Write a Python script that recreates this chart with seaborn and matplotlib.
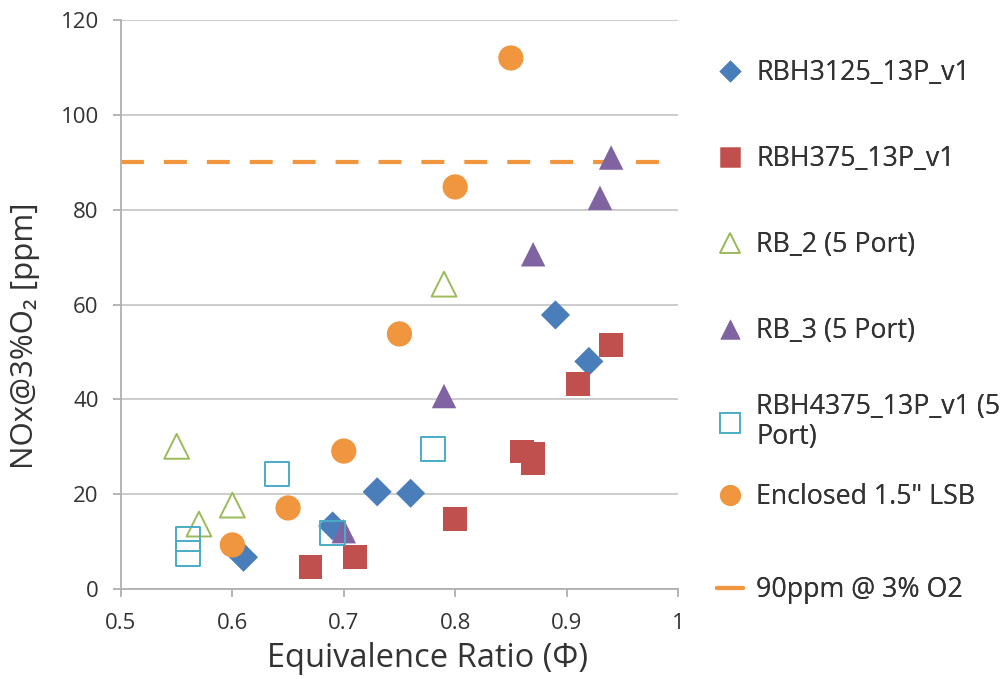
import matplotlib
matplotlib.use("Agg")
import matplotlib.pyplot as plt
import seaborn as sns
import numpy as np
import pandas as pd
from matplotlib.lines import Line2D

# ---- data ----
rbh3125_x = [0.61, 0.69, 0.73, 0.76, 0.89, 0.92]
rbh3125_y = [6.7, 13.3, 20.5, 20.2, 57.8, 48.0]

rbh375_x = [0.67, 0.71, 0.80, 0.86, 0.87, 0.87, 0.91, 0.94]
rbh375_y = [4.6, 6.7, 14.8, 29.0, 28.5, 26.5, 43.2, 51.5]

rb2_x = [0.55, 0.57, 0.60, 0.79]
rb2_y = [30.1, 13.7, 17.7, 64.3]

rb3_x = [0.70, 0.79, 0.87, 0.93, 0.94]
rb3_y = [12.2, 40.7, 70.6, 82.5, 91.0]

rbh4375_x = [0.56, 0.56, 0.64, 0.69, 0.78]
rbh4375_y = [10.5, 7.5, 24.3, 11.8, 29.5]

lsb_x = [0.60, 0.65, 0.70, 0.75, 0.80, 0.85]
lsb_y = [9.3, 17.1, 29.1, 53.8, 84.8, 112.0]

limit_x = [0.5, 1.0]
limit_y = [90, 90]

labels = ["RBH3125_13P_v1", "RBH375_13P_v1", "RB_2 (5 Port)", "RB_3 (5 Port)",
          "RBH4375_13P_v1 (5\nPort)", "Enclosed 1.5\" LSB", "90ppm @ 3% O2"]
x_ticks = [0.5, 0.6, 0.7, 0.8, 0.9, 1.0]
x_ticklabels = ["0.5", "0.6", "0.7", "0.8", "0.9", "1"]
y_ticks = [0, 20, 40, 60, 80, 100, 120]

# ---- style ----
sns.set_theme(style="white")
plt.rcParams['font.family'] = ['Open Sans', 'Noto Sans', 'DejaVu Sans']

c_blue = "#4A7EBB"
c_red = "#C0504D"
c_green = "#9BBB59"
c_purple = "#8064A2"
c_cyan = "#4BACC6"
c_orange = "#F0963F"
txt = "#333333"
gridc = "#C8C8C8"
axc = "#B0B0B0"

fig = plt.figure(figsize=(10.08, 6.79), dpi=100)
ax = fig.add_axes([0.120, 0.1325, 0.5526, 0.838])

sns.scatterplot(x=rbh3125_x, y=rbh3125_y, ax=ax, marker="D", s=220, color=c_blue,
                edgecolor="none", zorder=3)
sns.scatterplot(x=rbh375_x, y=rbh375_y, ax=ax, marker="s", s=290, color=c_red,
                edgecolor="none", zorder=3)
sns.scatterplot(x=rb2_x, y=rb2_y, ax=ax, marker="^", s=320, facecolors="none",
                edgecolor=c_green, linewidth=1.4, zorder=3)
sns.scatterplot(x=rb3_x, y=rb3_y, ax=ax, marker="^", s=310, color=c_purple,
                edgecolor="none", zorder=3)
sns.scatterplot(x=rbh4375_x, y=rbh4375_y, ax=ax, marker="s", s=310, facecolors="none",
                edgecolor=c_cyan, linewidth=1.4, zorder=3)
sns.scatterplot(x=lsb_x, y=lsb_y, ax=ax, marker="o", s=330, color=c_orange,
                edgecolor="none", zorder=3)
sns.lineplot(x=limit_x, y=limit_y, ax=ax, color=c_orange, linewidth=3.0,
             dashes=False, zorder=2)
ax.lines[-1].set_dashes((5.5, 4.8))

ax.set_xlim(0.5, 1.0)
ax.set_ylim(0, 120)
ax.set_xticks(x_ticks)
ax.set_xticklabels(x_ticklabels)
ax.set_yticks(y_ticks)
ax.yaxis.grid(True, color=gridc, linewidth=1.3)
ax.set_axisbelow(True)
for s in ["top", "right"]:
    ax.spines[s].set_visible(False)
for s in ["left", "bottom"]:
    ax.spines[s].set_color(axc)
    ax.spines[s].set_linewidth(1.3)
ax.tick_params(axis="both", which="major", direction="out", length=6, width=1.3,
               color=axc, labelsize=16, labelcolor=txt, left=True, bottom=True)
ax.tick_params(axis="y", pad=10)
ax.tick_params(axis="x", pad=11)
ax.set_xlabel("Equivalence Ratio (Φ)", fontsize=23.5, color=txt)
ax.xaxis.set_label_coords(0.551, -0.093)
ax.set_ylabel("NOx@3%O₂ [ppm]", fontsize=22.5, color=txt)
ax.yaxis.set_label_coords(-0.145, 0.445)

handles = [
    Line2D([], [], linestyle="none", marker="D", markersize=11, color=c_blue, markeredgecolor="none"),
    Line2D([], [], linestyle="none", marker="s", markersize=15, color=c_red, markeredgecolor="none"),
    Line2D([], [], linestyle="none", marker="^", markersize=15, markerfacecolor="none", markeredgecolor=c_green, markeredgewidth=1.2),
    Line2D([], [], linestyle="none", marker="^", markersize=15, color=c_purple, markeredgecolor="none"),
    Line2D([], [], linestyle="none", marker="s", markersize=15, markerfacecolor="none", markeredgecolor=c_cyan, markeredgewidth=1.2),
    Line2D([], [], linestyle="none", marker="o", markersize=15, color=c_orange, markeredgecolor="none"),
    Line2D([], [], color=c_orange, linewidth=3.0),
]
# legend entry centres (pixel rows from top of figure)
entry_px = [73, 159, 245, 331, 422, 497, 590]
H = 679.0
for h, lab, py in zip(handles, labels, entry_px):
    lg = fig.legend([h], [lab], loc="center left", bbox_to_anchor=(0.711, 1 - py / H),
                    frameon=False, fontsize=19.3, handlelength=1.0, handletextpad=0.48,
                    labelcolor=txt, borderaxespad=0, borderpad=0)
    for t in lg.get_texts():
        t.set_linespacing(1.05)
    fig.add_artist(lg)

fig.savefig("out.png", dpi=100, facecolor="white")
